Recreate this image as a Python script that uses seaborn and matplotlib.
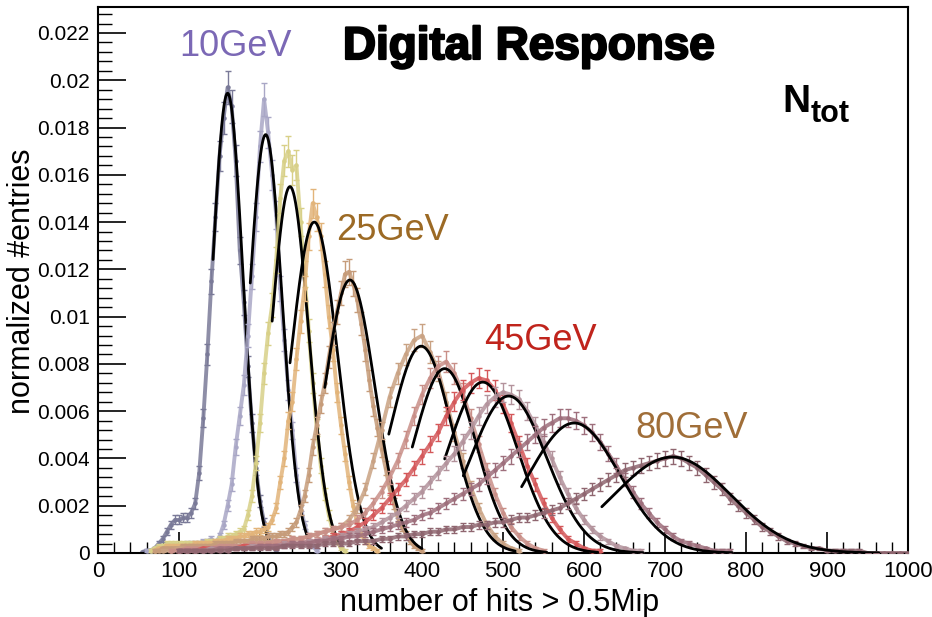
import numpy as np
import pandas as pd
import matplotlib
matplotlib.use("Agg")
import matplotlib.pyplot as plt
import matplotlib.patheffects as pe
import seaborn as sns
from matplotlib.ticker import MultipleLocator

# Normalized hit-count distributions, one per beam energy (lowest first).
# Each list holds bin contents starting at bin_start[i] with width bin_width[i].
h01 = [0.00005, 0.0001, 0.0001, 0.0002, 0.0004, 0.0006, 0.0009, 0.0012, 0.0014, 0.0014,
       0.0015, 0.0015, 0.0017, 0.0021, 0.0034, 0.0057, 0.0084, 0.0115, 0.0142, 0.0168,
       0.0184, 0.0197, 0.0189, 0.0166, 0.0128, 0.0106, 0.0079, 0.0055, 0.0036, 0.0022,
       0.0013, 0.0007, 0.0003, 0.0001]
h02 = [0.0001, 0.0001, 0.0002, 0.0002, 0.0002, 0.0003, 0.0003, 0.0003, 0.0003, 0.0003,
       0.0004, 0.0004, 0.0004, 0.0004, 0.0005, 0.0005, 0.0006, 0.0004, 0.0007, 0.0012,
       0.0020, 0.0029, 0.0045, 0.0058, 0.0071, 0.0092, 0.0117, 0.0142, 0.0172, 0.0192,
       0.0178, 0.0160, 0.0143, 0.0112, 0.0090, 0.0069, 0.0052, 0.0033, 0.0020, 0.0012,
       0.0006, 0.0003, 0.0001]
h03 = [0.0001, 0.0002, 0.0003, 0.0003, 0.0004, 0.0004, 0.0004, 0.0004, 0.0004, 0.0004,
       0.0004, 0.0004, 0.0004, 0.0004, 0.0005, 0.0005, 0.0005, 0.0006, 0.0006, 0.0007,
       0.0007, 0.0008, 0.0009, 0.0010, 0.0016, 0.0024, 0.0038, 0.0055, 0.0076, 0.0093,
       0.0105, 0.0124, 0.0150, 0.0166, 0.0170, 0.0162, 0.0164, 0.0140, 0.0118, 0.0094,
       0.0072, 0.0053, 0.0037, 0.0025, 0.0016, 0.0009, 0.0005, 0.0002, 0.0001]
h04 = [0.0001, 0.0002, 0.0002, 0.0003, 0.0003, 0.0003, 0.0003, 0.0003, 0.0003, 0.0003,
       0.0004, 0.0004, 0.0004, 0.0004, 0.0004, 0.0005, 0.0005, 0.0005, 0.0006, 0.0006,
       0.0006, 0.0007, 0.0007, 0.0008, 0.0008, 0.0009, 0.0009, 0.0010, 0.0011, 0.0014,
       0.0019, 0.0030, 0.0040, 0.0056, 0.0064, 0.0082, 0.0098, 0.0112, 0.0134, 0.0148,
       0.0142, 0.0134, 0.0118, 0.0100, 0.0086, 0.0068, 0.0054, 0.0042, 0.0030, 0.0020,
       0.0013, 0.0008, 0.0005, 0.0003, 0.0002, 0.0001]
h05 = [0.0001, 0.0001, 0.0002, 0.0002, 0.0002, 0.0002, 0.0002, 0.0003, 0.0003, 0.0003,
       0.0003, 0.0003, 0.0003, 0.0003, 0.0003, 0.0004, 0.0004, 0.0004, 0.0004, 0.0004,
       0.0005, 0.0005, 0.0005, 0.0005, 0.0006, 0.0006, 0.0006, 0.0006, 0.0007, 0.0007,
       0.0007, 0.0008, 0.0008, 0.0009, 0.0011, 0.0013, 0.0018, 0.0024, 0.0033, 0.0045,
       0.0054, 0.0063, 0.0072, 0.0083, 0.0093, 0.0102, 0.0110, 0.0118, 0.0119, 0.0114,
       0.0107, 0.0097, 0.0086, 0.0073, 0.0062, 0.0053, 0.0044, 0.0036, 0.0027, 0.0021,
       0.0015, 0.0011, 0.0008, 0.0005, 0.0003, 0.0002, 0.0001]
h06 = [0.0001, 0.0001, 0.0002, 0.0002, 0.0002, 0.0002, 0.0002, 0.0003, 0.0003, 0.0003,
       0.0003, 0.0004, 0.0004, 0.0004, 0.0005, 0.0005, 0.0006, 0.0006, 0.0007, 0.0008,
       0.0009, 0.0010, 0.0011, 0.0014, 0.0019, 0.0027, 0.0039, 0.0052, 0.0066, 0.0076,
       0.0084, 0.0090, 0.0092, 0.0085, 0.0077, 0.0064, 0.0051, 0.0039, 0.0028, 0.0019,
       0.0012, 0.0007, 0.0004, 0.0002, 0.0001]
h07 = [0.0001, 0.0001, 0.0002, 0.0002, 0.0002, 0.0002, 0.0003, 0.0003, 0.0003, 0.0003,
       0.0004, 0.0004, 0.0004, 0.0005, 0.0005, 0.0006, 0.0006, 0.0007, 0.0008, 0.0009,
       0.0010, 0.0011, 0.0012, 0.0014, 0.0017, 0.0021, 0.0026, 0.0032, 0.0039, 0.0048,
       0.0058, 0.0067, 0.0074, 0.0079, 0.0081, 0.0076, 0.0068, 0.0057, 0.0046, 0.0035,
       0.0025, 0.0017, 0.0011, 0.0007, 0.0004, 0.0002, 0.0001]
h08 = [0.0001, 0.0001, 0.0001, 0.0002, 0.0002, 0.0002, 0.0002, 0.0002, 0.0003, 0.0003,
       0.0003, 0.0003, 0.0003, 0.0004, 0.0004, 0.0004, 0.0005, 0.0005, 0.0006, 0.0007,
       0.0008, 0.0009, 0.0011, 0.0013, 0.0016, 0.0019, 0.0023, 0.0027, 0.0031, 0.0036,
       0.0041, 0.0046, 0.0051, 0.0058, 0.0064, 0.0069, 0.0072, 0.0074, 0.0073, 0.0069,
       0.0063, 0.0055, 0.0046, 0.0037, 0.0029, 0.0021, 0.0015, 0.0010, 0.0006, 0.0004,
       0.0002, 0.0001, 0.0001]
h09 = [0.0001, 0.0001, 0.0001, 0.0001, 0.0002, 0.0002, 0.0002, 0.0002, 0.0002, 0.0003,
       0.0003, 0.0003, 0.0003, 0.0004, 0.0004, 0.0004, 0.0005, 0.0005, 0.0006, 0.0006,
       0.0007, 0.0008, 0.0009, 0.0010, 0.0011, 0.0013, 0.0015, 0.0017, 0.0020, 0.0023,
       0.0026, 0.0030, 0.0034, 0.0038, 0.0042, 0.0047, 0.0052, 0.0058, 0.0063, 0.0066,
       0.0068, 0.0067, 0.0065, 0.0060, 0.0054, 0.0047, 0.0040, 0.0032, 0.0025, 0.0019,
       0.0014, 0.0010, 0.0007, 0.0005, 0.0003, 0.0002, 0.0001, 0.0001]
h10 = [0.0001, 0.0001, 0.0001, 0.0001, 0.0001, 0.0002, 0.0002, 0.0002, 0.0002, 0.0002,
       0.0003, 0.0003, 0.0003, 0.0003, 0.0004, 0.0004, 0.0004, 0.0005, 0.0005, 0.0006,
       0.0006, 0.0007, 0.0007, 0.0008, 0.0009, 0.0010, 0.0011, 0.0012, 0.0013, 0.0014,
       0.0016, 0.0017, 0.0019, 0.0021, 0.0023, 0.0025, 0.0027, 0.0029, 0.0032, 0.0035,
       0.0038, 0.0041, 0.0044, 0.0047, 0.0050, 0.0053, 0.0055, 0.0057, 0.0057, 0.0056,
       0.0054, 0.0051, 0.0047, 0.0042, 0.0037, 0.0031, 0.0026, 0.0021, 0.0017, 0.0013,
       0.0010, 0.0007, 0.0005, 0.0004, 0.0003, 0.0002, 0.0001, 0.0001, 0.0001]
h11 = [0.0001, 0.0001, 0.0001, 0.0001, 0.0001, 0.0001, 0.0001, 0.0002, 0.0002, 0.0002,
       0.0002, 0.0002, 0.0002, 0.0003, 0.0003, 0.0003, 0.0003, 0.0003, 0.0004, 0.0004,
       0.0004, 0.0004, 0.0005, 0.0005, 0.0005, 0.0006, 0.0006, 0.0007, 0.0007, 0.0008,
       0.0008, 0.0009, 0.0009, 0.0010, 0.0010, 0.0011, 0.0011, 0.0012, 0.0012, 0.0013,
       0.0013, 0.0014, 0.0015, 0.0015, 0.0016, 0.0017, 0.0018, 0.0019, 0.0021, 0.0023,
       0.0025, 0.0027, 0.0029, 0.0031, 0.0033, 0.0035, 0.0036, 0.0037, 0.0038, 0.0039,
       0.0040, 0.0041, 0.0040, 0.0038, 0.0036, 0.0033, 0.0030, 0.0027, 0.0023, 0.0020,
       0.0017, 0.0014, 0.0011, 0.0009, 0.0007, 0.0005, 0.0004, 0.0003, 0.0002, 0.0002,
       0.0001, 0.0001, 0.0001, 0.0001, 0.0001, 0.0, 0.0, 0.0, 0.0, 0.0, 0.0]

histos = [h01, h02, h03, h04, h05, h06, h07, h08, h09, h10, h11]
bin_start = [55, 60, 65, 70, 70, 80, 90, 100, 100, 100, 100]
bin_width = [5, 5, 5, 5, 5, 10, 10, 10, 10, 10, 10]
colors = ["#7a7a98", "#a9a7c6", "#d8d088", "#e2b47a", "#c69c7a", "#c9a283",
          "#c98f88", "#d4585a", "#b3939c", "#9e6f7c", "#8f6670"]

# Gaussian fit parameters and fit ranges
fit_peak = [0.01945, 0.0177, 0.0155, 0.0140, 0.01155, 0.00875, 0.0078, 0.00723, 0.00664, 0.0055, 0.00406]
fit_mean = [160, 207, 237, 267, 311, 399, 428, 475, 507, 588, 709]
fit_sigma = [19.0, 20.3, 23.0, 28.5, 31.0, 38.0, 38.0, 43.0, 47.0, 56.0, 72.0]
fit_lo = [142, 188, 215, 237, 280, 359, 388, 428, 451, 523, 622]
fit_hi = [212, 260, 300, 350, 400, 515, 554, 617, 673, 783, 964]

# Energy labels
label_text = ["10GeV", "25GeV", "45GeV", "80GeV"]
label_color = ["#7b68b5", "#9c6a25", "#c0241c", "#a06e38"]
label_xy = [(235, 46), (393, 231), (540, 340), (692, 429)]   # figure pixels

err_scale = 0.005   # statistical error per bin ~ scale * sqrt(content)

sns.set_theme(style="ticks")
plt.rcParams["font.family"] = ["Liberation Sans", "DejaVu Sans"]
plt.rcParams["text.color"] = "black"
plt.rcParams["xtick.color"] = "black"
plt.rcParams["ytick.color"] = "black"
plt.rcParams["axes.labelcolor"] = "black"

W, H = 932, 617
fig = plt.figure(figsize=(W / 100, H / 100), dpi=100)
ax = fig.add_axes([98 / W, 1 - 553 / H, (908 - 98) / W, (553 - 7) / H])

for i, vals in enumerate(histos):
    y = np.asarray(vals)
    x = bin_start[i] + bin_width[i] * np.arange(len(y))
    df = pd.DataFrame({"hits": x, "frac": y})
    z = 2 + 2 * i
    # thick trace under the points gives the dense band look
    sns.lineplot(data=df, x="hits", y="frac", color=colors[i], lw=2.8,
                 alpha=0.85, ax=ax, zorder=z, legend=False)
    ax.errorbar(df["hits"], df["frac"], yerr=err_scale * np.sqrt(y),
                fmt="o", ms=2.2, color=colors[i], ecolor=colors[i],
                elinewidth=1.0, capsize=2.4, capthick=1.0, zorder=z)
    xf = np.linspace(fit_lo[i], fit_hi[i], 300)
    yf = fit_peak[i] * np.exp(-0.5 * ((xf - fit_mean[i]) / fit_sigma[i]) ** 2)
    sns.lineplot(x=xf, y=yf, color="black", lw=2.0, ax=ax, zorder=z + 1,
                 legend=False)

ax.set_xlim(0, 1000)
ax.set_ylim(0, 0.0231)
ax.xaxis.set_major_locator(MultipleLocator(100))
ax.xaxis.set_minor_locator(MultipleLocator(20))
ax.yaxis.set_minor_locator(MultipleLocator(0.0004))
ax.set_yticks(np.arange(0, 0.0221, 0.002))
ax.set_yticklabels(["0"] + ["%g" % v for v in np.arange(0.002, 0.0221, 0.002)])
ax.tick_params(axis="both", which="both", direction="in", top=False, right=False,
               color="black", labelcolor="black")
ax.tick_params(axis="y", which="major", length=20, width=1.2, labelsize=15, pad=6)
ax.tick_params(axis="y", which="minor", length=10, width=1.0)
ax.tick_params(axis="x", which="major", length=15, width=1.2, labelsize=16, pad=6)
ax.tick_params(axis="x", which="minor", length=8, width=1.0)
for s in ax.spines.values():
    s.set_color("black")
    s.set_linewidth(1.5)
ax.set_xlabel("")
ax.set_ylabel("")

fig.text(500 / W, 1 - 603 / H, "number of hits > 0.5Mip", fontsize=22,
         ha="center", va="center", color="black")
fig.text(22 / W, 1 - 281 / H, "normalized #entries", fontsize=22,
         rotation=90, ha="center", va="center", color="black")

heavy = [pe.withStroke(linewidth=1.6, foreground="black")]
fig.text(529 / W, 1 - 47 / H, "Digital Response", fontsize=33,
         fontweight="bold", ha="center", va="center", color="black",
         path_effects=heavy)
fig.text(782 / W, 1 - 112 / H, "N", fontsize=28, fontweight="bold",
         ha="left", va="baseline", color="black")
fig.text(811 / W, 1 - 122 / H, "tot", fontsize=22, fontweight="bold",
         ha="left", va="baseline", color="black")

for t, c, (px, py) in zip(label_text, label_color, label_xy):
    fig.text(px / W, 1 - py / H, t, fontsize=26, color=c, ha="center",
             va="center")

fig.savefig("out.png", dpi=100)
